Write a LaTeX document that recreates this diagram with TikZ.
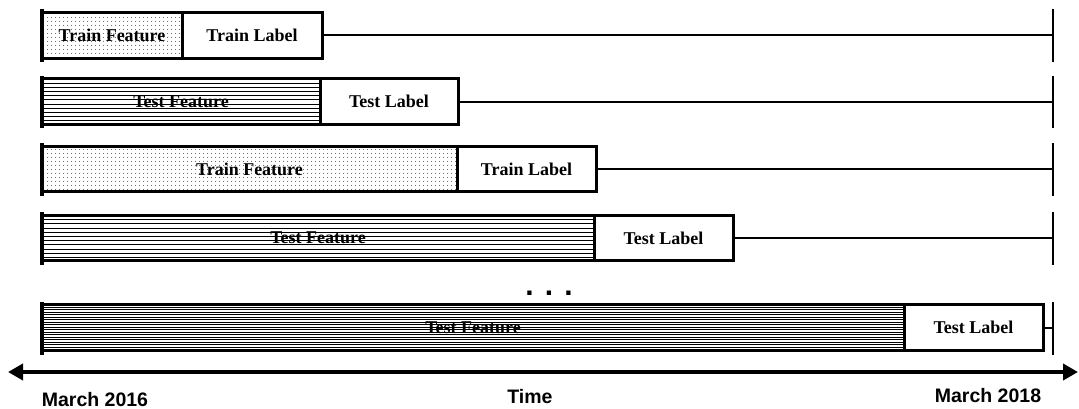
\documentclass[tikz,border=0pt]{standalone}
\usepackage{fontspec}
\setmainfont{Liberation Serif}
\setsansfont{Liberation Sans}
\usepackage{tikz}
\usetikzlibrary{arrows.meta, positioning, patterns.meta}

\tikzset{
    periodbox/.style={rectangle, draw, line width=3pt, inner sep=0pt, outer sep=0pt,
        minimum height=45.5pt, font=\fontsize{18}{20}\selectfont\bfseries},
    trainfeat/.style={periodbox, pattern={Dots[distance=4pt, radius=0.55pt]}},
    hlines/.style 2 args={path picture={
        \foreach \k in {1,...,#1}
            \draw[line width=0.7pt] ([yshift=-\k*#2]path picture bounding box.north west)
                -- ([yshift=-\k*#2]path picture bounding box.north east);}},
    testfeat/.style={periodbox, hlines={10}{4.2pt}},
    densefeat/.style={periodbox, hlines={18}{2.5pt}},
    labelbox/.style={periodbox},
    restline/.style={line width=2pt},
    startbar/.style={line width=4.5pt},
    endbar/.style={line width=2.5pt},
    datetext/.style={anchor=base, font=\fontsize{19.5}{22}\selectfont\sffamily\bfseries}
}

\begin{document}
\begin{tikzpicture}[x=1pt, y=-1pt]
    \useasboundingbox (0,0) rectangle (1079,408);

    % Window 1
    \node [trainfeat, minimum width=140pt, anchor=west] (feat1) at (42,35.25) {Train Feature};
    \node [labelbox, minimum width=140pt, right=0pt of feat1] (lab1) {Train Label};
    \coordinate (end1) at (1053,35.25);
    \draw[restline] (lab1) -- (end1);
    \draw[startbar] (42,8.5) -- (42,62);
    \draw[endbar] (1053,8.5) -- (1053,62);

    % Window 2
    \node [testfeat, minimum width=278pt, anchor=west] (feat2) at (42,101.5) {Test Feature};
    \node [labelbox, minimum width=138pt, right=0pt of feat2] (lab2) {Test Label};
    \coordinate (end2) at (1053,101.5);
    \draw[restline] (lab2) -- (end2);
    \draw[startbar] (42,75.5) -- (42,128);
    \draw[endbar] (1053,75.5) -- (1053,128);

    % Window 3
    \node [trainfeat, minimum width=415pt, anchor=west] (feat3) at (42,169) {Train Feature};
    \node [labelbox, minimum width=139pt, right=0pt of feat3] (lab3) {Train Label};
    \coordinate (end3) at (1053,169);
    \draw[restline] (lab3) -- (end3);
    \draw[startbar] (42,143) -- (42,196);
    \draw[endbar] (1053,143) -- (1053,196);

    % Window 4
    \node [testfeat, minimum width=552pt, anchor=west] (feat4) at (42,238) {Test Feature};
    \node [labelbox, minimum width=139pt, right=0pt of feat4] (lab4) {Test Label};
    \coordinate (end4) at (1053,238);
    \draw[restline] (lab4) -- (end4);
    \draw[startbar] (42,212) -- (42,265);
    \draw[endbar] (1053,212) -- (1053,265);

    % dots
    \node [anchor=base, font=\fontsize{30}{32}\selectfont\sffamily\bfseries] (more) at (549,295.5) {. . .};

    % Last window
    \node [densefeat, minimum width=862pt, anchor=west] (feat5) at (42,327.5) {Test Feature};
    \node [labelbox, minimum width=139pt, right=0pt of feat5] (lab5) {Test Label};
    \coordinate (end5) at (1053,327.5);
    \draw[restline] (lab5) -- (end5);
    \draw[startbar] (42,302) -- (42,355);
    \draw[endbar] (1053,302) -- (1053,355);

    % time axis
    \coordinate (tstart) at (8,372);
    \coordinate (tend) at (1078,372);
    \draw[{Triangle[length=15pt, width=16pt]}-{Triangle[length=15pt, width=16pt]}, line width=4pt] (tstart) -- (tend);
    \node [datetext] (first) at (95,406) {March 2016};
    \node [datetext] (time) at (530,403) {Time};
    \node [datetext] (last) at (988,402) {March 2018};
\end{tikzpicture}
\end{document}
